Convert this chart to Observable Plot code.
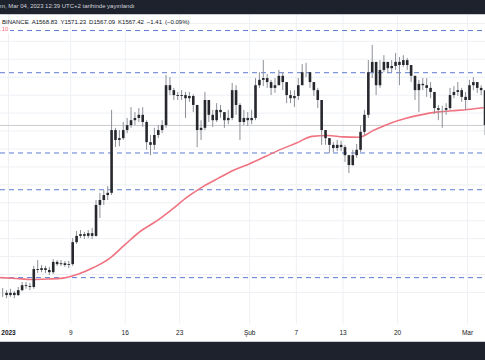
<!DOCTYPE html>
<html><head><meta charset="utf-8">
<script src="https://cdn.jsdelivr.net/npm/d3@7"></script>
<script src="https://cdn.jsdelivr.net/npm/@observablehq/plot@0.6"></script>
<style>
html,body{margin:0;padding:0;background:#fff;}
#wrap{position:relative;width:485px;height:360px;overflow:hidden;font-family:"Liberation Sans",Arial,sans-serif;}
#top{position:absolute;left:0;top:0;width:485px;height:14px;background:#1e222d;border-bottom:1px solid #c9ccd3;color:#d1d4dc;font-size:6px;line-height:13px;white-space:nowrap;}
#chart{position:absolute;left:0;top:14px;}
#info{position:absolute;left:2px;top:19px;font-size:6px;color:#131722;white-space:nowrap;}
#info span{margin-right:3px;}
#top span{margin-right:1.6px;}
#ma{position:absolute;left:0px;top:26px;font-size:6px;line-height:7px;color:#f06a7a;background:#fff;padding-right:2px;}
#bot{position:absolute;left:0;top:341px;width:485px;height:19px;background:#1e222d;border-top:1px solid #c9ccd3;}
</style></head>
<body>
<div id="wrap">
  <div id="chart"></div>
  <div id="top"></div>
  <div id="info"></div>
  <div id="ma">.10</div>
  <div id="bot"></div>
</div>
<script>
// header texts
const headerWords = ["m,", "Mar", "04,", "2023", "12:39", "UTC+2", "tarihinde", "yayınlandı"];
const infoWords = ["BINANCE", "A1568.83", "Y1571.23", "D1567.09", "K1567.42", "−1.41", "(−0.09%)"];

// 12-hour candles starting 2022-12-31 00:00 UTC
const firstCandle = "2022-12-31T00:00:00Z";
const firstOpen = 1193;
const closes = [
1193,1188,1193,1188,1199,1210,1208,1206,1246,1244,
1248,1244,1239,1262,1257,1259,1255,1257,1306,1320,
1324,1320,1326,1320,1389,1400,1411,1416,1556,1534,
1538,1556,1567,1578,1583,1590,1574,1529,1523,1545,
1556,1567,1656,1645,1634,1632,1634,1627,1632,1612,
1556,1561,1623,1590,1578,1601,1596,1578,1583,1645,
1612,1574,1583,1578,1583,1656,1668,1672,1663,1650,
1656,1677,1663,1634,1627,1632,1656,1685,1685,1663,
1645,1623,1556,1538,1523,1516,1523,1518,1500,1478,
1500,1512,1552,1590,1685,1708,1656,1690,1708,1694,
1699,1708,1701,1712,1701,1677,1645,1659,1656,1650,
1641,1605,1601,1601,1605,1634,1641,1645,1630,1623,
1656,1663,1650,1645,1567];
const highs = [
1204,1199,1202,1197,1206,1217,1217,1215,1253,1266,
1255,1253,1251,1268,1266,1266,1264,1264,1315,1331,
1333,1329,1333,1338,1400,1416,1422,1431,1601,1561,
1556,1574,1583,1607,1596,1605,1607,1578,1545,1561,
1567,1578,1679,1674,1650,1641,1645,1641,1641,1636,
1612,1578,1641,1623,1601,1616,1612,1596,1601,1661,
1656,1616,1601,1596,1601,1672,1685,1712,1681,1668,
1672,1690,1685,1656,1645,1645,1672,1703,1706,1685,
1663,1650,1623,1556,1538,1529,1534,1532,1523,1500,
1512,1525,1567,1601,1712,1746,1701,1712,1723,1708,
1712,1728,1719,1723,1717,1694,1672,1668,1672,1672,
1663,1641,1612,1610,1616,1650,1654,1663,1650,1641,
1668,1674,1663,1656,1645];
const lows = [
1184,1181,1184,1181,1186,1197,1202,1199,1202,1237,
1239,1237,1233,1235,1253,1253,1251,1248,1253,1302,
1315,1313,1315,1313,1318,1360,1389,1400,1411,1518,
1520,1534,1549,1561,1567,1574,1563,1512,1500,1512,
1538,1549,1561,1634,1623,1623,1623,1583,1619,1596,
1518,1534,1556,1574,1563,1574,1583,1561,1569,1578,
1590,1534,1567,1565,1569,1578,1650,1654,1650,1634,
1639,1659,1645,1616,1616,1607,1623,1668,1674,1650,
1632,1605,1523,1523,1505,1507,1509,1509,1485,1460,
1476,1494,1507,1545,1583,1672,1634,1650,1685,1683,
1685,1690,1656,1697,1690,1663,1623,1596,1645,1630,
1627,1592,1578,1561,1590,1601,1627,1632,1619,1601,
1623,1645,1639,1634,1545];

// moving average (red), sampled every 2 days (day offset from 2023-01-01)
const maDays = [-1,1,3,5,7,9,11,13,15,17,19,21,23,25,27,29,31,33,35,37,39,41,43,45,47,49,51,53,55,57,59,61];
const maValues = [1228,1226,1224,1225,1227,1236,1251,1271,1302,1332,1354,1380,1408,1431,1450,1468,1482,1498,1514,1528,1543,1545,1542,1541,1557,1572,1583,1591,1597,1600,1603,1607];

const levels = [1779,1685,1506,1424,1228];
const lastPrice = 1567.42;
const gridValues = [1195,1235,1275,1315,1355,1395,1435,1475,1515,1555,1595,1635,1675,1715,1755,1795];
const tickDates = ["2023-01-01","2023-01-09","2023-01-16","2023-01-23","2023-02-01","2023-02-07","2023-02-13","2023-02-20","2023-03-01"];
const tickLabels = ["2023","9","16","23","Şub","7","13","20","Mar"];

headerWords.forEach(w => { const s = document.createElement("span"); s.textContent = w; document.getElementById("top").appendChild(s); });
infoWords.forEach(w => { const s = document.createElement("span"); s.textContent = w; document.getElementById("info").appendChild(s); });

const H = 3600e3;
const t0 = new Date(firstCandle).getTime();
const candles = closes.map((c, i) => {
  const o = i === 0 ? firstOpen : closes[i - 1];
  return {t: new Date(t0 + i * 12 * H + 6 * H), o, c,
          h: Math.max(highs[i], o, c), l: Math.min(lows[i], o, c)};
});
const jan1 = new Date("2023-01-01T00:00:00Z").getTime();
const ma = maDays.map((d, i) => ({t: new Date(jan1 + d * 24 * H), v: maValues[i]}));
const ticks = tickDates.map((d, i) => ({t: new Date(d + "T00:00:00Z"), label: tickLabels[i]}));

const chart = Plot.plot({
  width: 485, height: 328,
  marginTop: 0, marginBottom: 18, marginLeft: 0, marginRight: 0,
  style: {background: "#fff", fontFamily: "'Liberation Sans', Arial, sans-serif", color: "#131722"},
  x: {type: "utc", axis: null, domain: [new Date("2022-12-30T23:20:00Z"), new Date("2023-03-03T07:26:00Z")]},
  y: {axis: null, domain: [1123.5, 1814.8]},
  marks: [
    Plot.ruleY(gridValues, {stroke: "#eef0f4"}),
    Plot.ruleX(ticks, {x: "t", stroke: "#eef0f4"}),
    Plot.ruleY([lastPrice], {stroke: "#c9ccd2"}),
    Plot.ruleY(levels, {stroke: "#5d7bd0", strokeWidth: 1, strokeDasharray: "5,4"}),
    Plot.line(ma, {x: "t", y: "v", stroke: "#ef7380", strokeWidth: 1.6, curve: "monotone-x"}),
    Plot.ruleX(candles, {x: "t", y1: "l", y2: "h", stroke: "#8d9097", strokeWidth: 1}),
    Plot.ruleX(candles, {x: "t", y1: "o", y2: "c", stroke: "#26282d", strokeWidth: 2.6}),
    Plot.text(ticks.filter(d => d.label !== "2023"), {x: "t", text: "label", frameAnchor: "bottom", dy: 10, fontSize: 6.5, fill: "#131722"}),
    Plot.text(ticks.filter(d => d.label === "2023"), {x: "t", text: "label", frameAnchor: "bottom", dy: 10, fontSize: 6.5, fontWeight: "bold", fill: "#131722"})
  ]
});
document.getElementById("chart").appendChild(chart);
</script>
</body></html>
